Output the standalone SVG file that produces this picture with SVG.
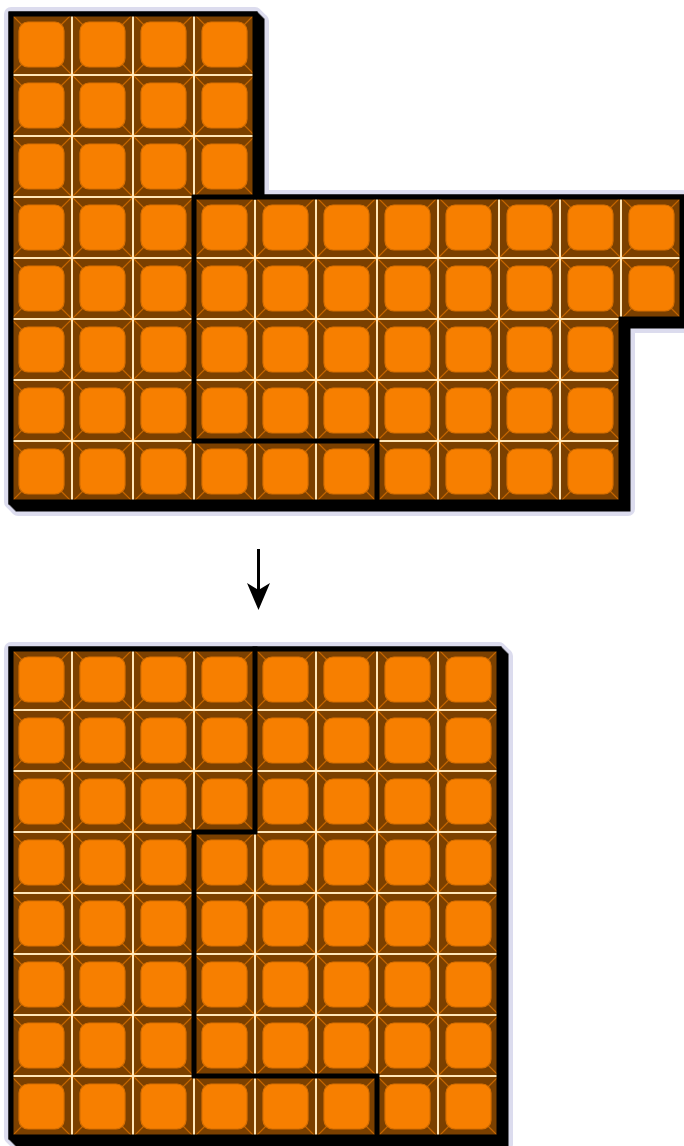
<svg xmlns="http://www.w3.org/2000/svg" xmlns:xlink="http://www.w3.org/1999/xlink" width="684" height="1146" viewBox="0 0 684 1146">
  <style>
    .halo { fill: #dcdcee; stroke: #dcdcee; stroke-width: 14; stroke-linejoin: round; }
    .shadow { fill: #000; stroke: #000; stroke-width: 5; stroke-linejoin: miter; }
    .edge { fill: none; stroke: #000; stroke-width: 5; stroke-linejoin: miter; }
    .cut { fill: none; stroke: #000; stroke-width: 5; stroke-linejoin: miter; stroke-linecap: square; }
    .conn { fill: none; stroke: #000; stroke-width: 3; }
  </style>
  <defs>
    <g id="cell">
      <rect x="0" y="0" width="61" height="61" fill="#7b4000"/>
      <g stroke="#c66600" stroke-width="1.2">
        <line x1="0" y1="0" x2="11" y2="11"/>
        <line x1="61" y1="0" x2="50" y2="11"/>
        <line x1="0" y1="61" x2="11" y2="50"/>
        <line x1="61" y1="61" x2="50" y2="50"/>
      </g>
      <rect x="8" y="8" width="45" height="45" rx="9" ry="9" fill="#f77f00" stroke="#d86e00" stroke-width="1.2"/>
      <g fill="#ffe6b8">
        <rect x="0" y="0" width="1" height="61"/>
        <rect x="60" y="0" width="1" height="61"/>
        <rect x="0" y="0" width="61" height="1"/>
        <rect x="0" y="60" width="61" height="1"/>
      </g>
    </g>
    <pattern id="cellsTop" patternUnits="userSpaceOnUse" x="11" y="14" width="61" height="61">
      <use href="#cell"/>
    </pattern>
    <pattern id="cellsBottom" patternUnits="userSpaceOnUse" x="11" y="649" width="61" height="61">
      <use href="#cell"/>
    </pattern>
    <path id="outlineTop" d="M11,14 H255 V197 H682 V319 H621 V502 H11 Z"/>
    <path id="outlineBottom" d="M11,649 H499 V1137 H11 Z"/>
    <marker id="arrowHead" markerUnits="userSpaceOnUse" markerWidth="27" markerHeight="23" viewBox="0 0 27 23" refX="7" refY="11.5" orient="auto">
      <path d="M0,0 L27,11.5 L0,23 L7,11.5 Z" fill="#000"/>
    </marker>
  </defs>

  <g id="shapeTop">
    <g class="halo">
      <use href="#outlineTop"/>
      <use href="#outlineTop" transform="translate(2,2)"/>
      <use href="#outlineTop" transform="translate(4,4)"/>
      <use href="#outlineTop" transform="translate(6,6)"/>
      <use href="#outlineTop" transform="translate(7,7)"/>
    </g>
    <g class="shadow">
      <use href="#outlineTop"/>
      <use href="#outlineTop" transform="translate(1,1)"/>
      <use href="#outlineTop" transform="translate(2,2)"/>
      <use href="#outlineTop" transform="translate(3,3)"/>
      <use href="#outlineTop" transform="translate(4,4)"/>
      <use href="#outlineTop" transform="translate(5,5)"/>
      <use href="#outlineTop" transform="translate(6,6)"/>
      <use href="#outlineTop" transform="translate(7,7)"/>
    </g>
    <path d="M11,14 H255 V197 H682 V319 H621 V502 H11 Z" fill="url(#cellsTop)"/>
    <use href="#outlineTop" class="edge"/>
    <path class="cut" d="M255,197 H194 V441 H377 V502"/>
  </g>

  <g id="shapeBottom">
    <g class="halo">
      <use href="#outlineBottom"/>
      <use href="#outlineBottom" transform="translate(2,2)"/>
      <use href="#outlineBottom" transform="translate(4,4)"/>
      <use href="#outlineBottom" transform="translate(6,6)"/>
      <use href="#outlineBottom" transform="translate(7,7)"/>
    </g>
    <g class="shadow">
      <use href="#outlineBottom"/>
      <use href="#outlineBottom" transform="translate(1,1)"/>
      <use href="#outlineBottom" transform="translate(2,2)"/>
      <use href="#outlineBottom" transform="translate(3,3)"/>
      <use href="#outlineBottom" transform="translate(4,4)"/>
      <use href="#outlineBottom" transform="translate(5,5)"/>
      <use href="#outlineBottom" transform="translate(6,6)"/>
      <use href="#outlineBottom" transform="translate(7,7)"/>
    </g>
    <rect x="11" y="649" width="488" height="488" fill="url(#cellsBottom)"/>
    <use href="#outlineBottom" class="edge"/>
    <path class="cut" d="M255,649 V832 H194 V1076 H377 V1137"/>
  </g>

  <g id="connectors">
    <line class="conn" x1="258.5" y1="549" x2="258.5" y2="590" marker-end="url(#arrowHead)"/>
  </g>
</svg>
